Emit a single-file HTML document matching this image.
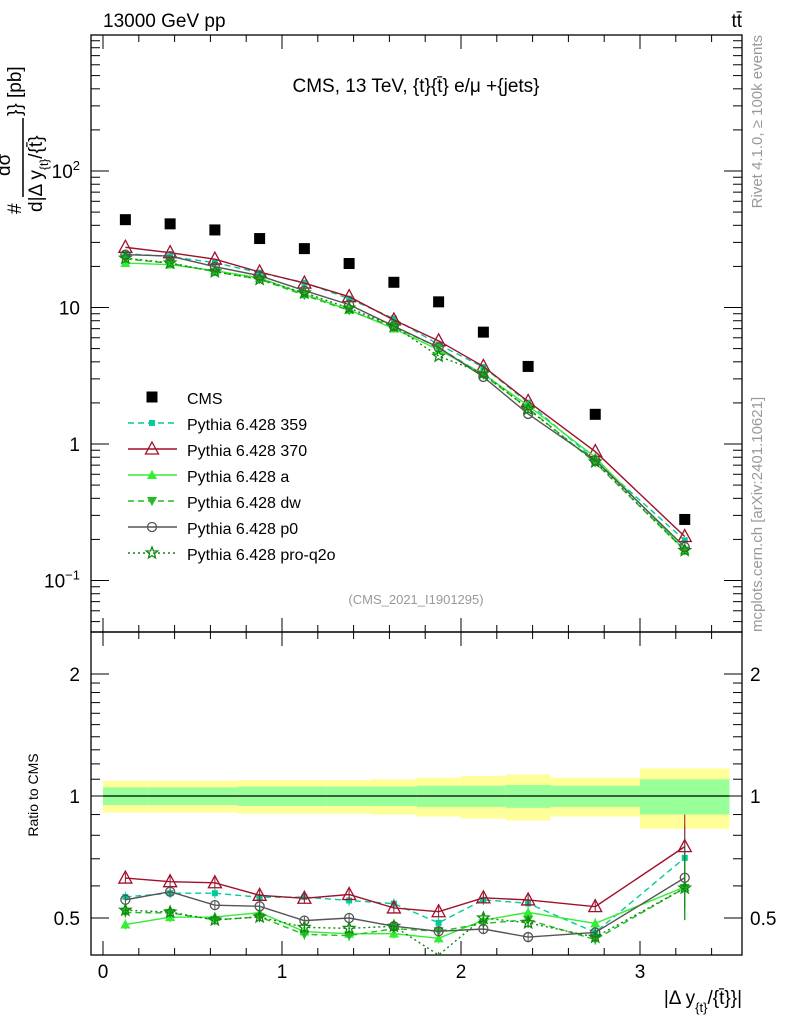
<!DOCTYPE html>
<html><head><meta charset="utf-8"><style>
body{margin:0;background:#fff}
svg{font-family:"Liberation Sans",sans-serif}
</style></head><body>
<svg id="c" width="786" height="1024" viewBox="0 0 786 1024" xmlns="http://www.w3.org/2000/svg">
<text x="103" y="27" font-size="19">13000 GeV pp</text>
<text x="742" y="27" font-size="19" text-anchor="end">tt̄</text>
<text x="416" y="92" font-size="19" text-anchor="middle">CMS, 13 TeV, {t}{t̄} e/μ +{jets}</text>
<text x="416" y="604" font-size="13" fill="#999" text-anchor="middle">(CMS_2021_I1901295)</text>
<text transform="translate(762,35) rotate(-90)" font-size="15" fill="#999" text-anchor="end">Rivet 4.1.0, ≥ 100k events</text>
<text transform="translate(762,632) rotate(-90)" font-size="15" fill="#999">mcplots.cern.ch [arXiv:2401.10621]</text>
<g>
<text transform="translate(21,214) rotate(-90)" font-size="19">#</text>
<text transform="translate(10,176) rotate(-90)" font-size="19">dσ</text>
<line x1="23" y1="118" x2="23" y2="197" stroke="#000" stroke-width="1.5"/>
<text transform="translate(21,116) rotate(-90)" font-size="19">}} [pb]</text>
<text transform="translate(42,212) rotate(-90)" font-size="19">d|Δ y<tspan font-size="12" dy="6">{t}</tspan><tspan dy="-6">/{t̄}</tspan></text>
</g>
<text transform="translate(38,795) rotate(-90)" font-size="14" text-anchor="middle">Ratio to CMS</text>
<text x="742" y="1004" font-size="19" text-anchor="end">|Δ y<tspan font-size="13" dy="8">{t}</tspan><tspan dy="-8">/{t̄}}|</tspan></text>
<g id="g"></g>
</svg>
<script>
const binLo=[0,0.25,0.5,0.75,1,1.25,1.5,1.75,2,2.25,2.5,3];
const binHi=[0.25,0.5,0.75,1,1.25,1.5,1.75,2,2.25,2.5,3,3.5];
const cmsVals=[44,41,37,32,27,21,15.3,11,6.6,3.7,1.65,0.28];
const statErr=[0.05,0.05,0.05,0.055,0.055,0.055,0.055,0.06,0.06,0.065,0.06,0.1];
const totErr=[0.09,0.09,0.09,0.095,0.095,0.095,0.1,0.11,0.12,0.13,0.11,0.17];
const s359=[24.8,23.6,21.3,18.0,15.2,11.6,8.3,5.35,3.66,2.01,0.76,0.197];
const s370=[27.6,25.2,22.6,18.2,15.1,12.0,8.1,5.7,3.7,2.05,0.88,0.21];
const sA=[21.2,20.6,18.6,16.5,12.5,9.6,7.0,4.9,3.26,1.91,0.80,0.167];
const sDW=[22.7,21.1,18.3,16.1,12.3,9.5,7.2,5.1,3.2,1.83,0.73,0.166];
const sP0=[24.4,23.8,19.9,17.1,13.3,10.5,7.3,5.1,3.1,1.66,0.76,0.176];
const sPro=[23.0,21.2,18.3,16.1,12.8,9.9,7.3,4.4,3.3,1.8,0.74,0.166];
const seriesNames=["Pythia 6.428 359","Pythia 6.428 370","Pythia 6.428 a","Pythia 6.428 dw","Pythia 6.428 p0","Pythia 6.428 pro-q2o"];
const NS="http://www.w3.org/2000/svg";
const G=document.getElementById('g');
function el(t,a,p){const e=document.createElementNS(NS,t);for(const k in a)e.setAttribute(k,a[k]);(p||G).appendChild(e);return e;}
const L=91,R=742,T=35,M=632,B=955;
const X=v=>103+v*179;
const Y=v=>444-Math.log10(v)*136.5;
const RY=v=>796-Math.log2(v)*122;
const cen=binLo.map((l,i)=>(l+binHi[i])/2);
const bandG=el('g',{});
binLo.forEach((l,i)=>{
 const r1=el('rect',{x:X(l),y:RY(1+totErr[i]),width:X(binHi[i])-X(l),height:RY(1-totErr[i])-RY(1+totErr[i]),fill:'#ffff99'},bandG);
 
});
binLo.forEach((l,i)=>{
 const r2=el('rect',{x:X(l),y:RY(1+statErr[i]),width:X(binHi[i])-X(l),height:RY(1-statErr[i])-RY(1+statErr[i]),fill:'#99ff99'},bandG);
 
});
const one=el('line',{x1:X(0),x2:X(3.5),y1:RY(1),y2:RY(1),stroke:'#000','stroke-width':1.3});

const f1=el('rect',{x:L,y:T,width:R-L,height:M-T,fill:'none',stroke:'#000','stroke-width':1.3});

const f2=el('rect',{x:L,y:M,width:R-L,height:B-M,fill:'none',stroke:'#000','stroke-width':1.3});

for(let v=0;v<=3.5001;v+=0.2){const maj=Math.abs(v-Math.round(v))<1e-6;const len=maj?14:7;
 [T,M].forEach(yy=>{const t=el('line',{x1:X(v),x2:X(v),y1:yy,y2:yy+len,stroke:'#000'});});
 [M,B].forEach(yy=>{const t=el('line',{x1:X(v),x2:X(v),y1:yy,y2:yy-len,stroke:'#000'});});
 if(maj){const tx=el('text',{x:X(v),y:978,'font-size':19,'text-anchor':'middle'});tx.textContent=Math.round(v);}
}
for(let e=-2;e<=3;e++)for(let m=1;m<10;m++){const v=m*Math.pow(10,e);const y=Y(v);if(y<T||y>M)continue;const len=m==1?18:9;
 [[L,L+len],[R,R-len]].forEach(([a,b])=>{const t=el('line',{x1:a,x2:b,y1:y,y2:y,stroke:'#000'});});}
const ylab=[["10",2],["10",1],["1",0],["10",-1]];
ylab.forEach(([b,e])=>{const tx=el('text',{x:80,y:Y(Math.pow(10,e))+7,'font-size':19,'text-anchor':'end'});
 
 if(e==2){tx.innerHTML='10<tspan font-size="13" dy="-8">2</tspan>';}
 else if(e==-1){tx.innerHTML='10<tspan font-size="13" dy="-8">−1</tspan>';}
 else tx.textContent=b;});
const rt=[0.5,0.6,0.7,0.8,0.9,1,1.1,1.2,1.3,1.4,1.5,1.6,1.7,1.8,1.9,2];
rt.forEach(v=>{const y=RY(v);const maj=(v==0.5||v==1||v==2);const len=maj?18:9;
 [[L,L+len],[R,R-len]].forEach(([a,b])=>{const t=el('line',{x1:a,x2:b,y1:y,y2:y,stroke:'#000'});});
 if(maj){[[80,'end'],[750,'start']].forEach(([xx,an])=>{const tx=el('text',{x:xx,y:y+7,'font-size':19,'text-anchor':an});tx.textContent=v;});}
});
function marker(type,x,y,col,parent){
 let e;
 if(type=='sq')e=el('rect',{x:x-3,y:y-3,width:6,height:6,fill:col},parent);
 else if(type=='bsq')e=el('rect',{x:x-5.5,y:y-5.5,width:11,height:11,fill:col},parent);
 else if(type=='otri')e=el('path',{d:`M${x},${y-7}L${x+6.5},${y+5}L${x-6.5},${y+5}Z`,fill:'none',stroke:col,'stroke-width':1.3},parent);
 else if(type=='tri')e=el('path',{d:`M${x},${y-5}L${x+5},${y+4}L${x-5},${y+4}Z`,fill:col},parent);
 else if(type=='itri')e=el('path',{d:`M${x},${y+5}L${x+5},${y-4}L${x-5},${y-4}Z`,fill:col},parent);
 else if(type=='circ')e=el('circle',{cx:x,cy:y,r:4.5,fill:'none',stroke:col,'stroke-width':1.3},parent);
 else if(type=='star'){let d='';for(let k=0;k<10;k++){const r=k%2?2.6:6;const a=-Math.PI/2+k*Math.PI/5;d+=(k?'L':'M')+(x+r*Math.cos(a)).toFixed(1)+','+(y+r*Math.sin(a)).toFixed(1);}e=el('path',{d:d+'Z',fill:'none',stroke:col,'stroke-width':1.3},parent);}
 
 return e;
}
const series=[
 {v:s359,c:'#00cc99',dash:'6,4',m:'sq'},
 {v:s370,c:'#a0102a',dash:'',m:'otri'},
 {v:sA,c:'#33ee33',dash:'',m:'tri'},
 {v:sDW,c:'#22bb22',dash:'6,4',m:'itri'},
 {v:sP0,c:'#555555',dash:'',m:'circ'},
 {v:sPro,c:'#118811',dash:'2,3',m:'star'}];
series.forEach((s,si)=>{
 const g=el('g',{});
 const p1=el('polyline',{points:s.v.map((v,i)=>X(cen[i])+','+Y(v)).join(' '),fill:'none',stroke:s.c,'stroke-width':1.4,'stroke-dasharray':s.dash},g);
 
 const p2=el('polyline',{points:s.v.map((v,i)=>X(cen[i])+','+Math.min(B,RY(v/cmsVals[i]))).join(' '),fill:'none',stroke:s.c,'stroke-width':1.4,'stroke-dasharray':s.dash},g);
 
 s.v.forEach((v,i)=>{marker(s.m,X(cen[i]),Y(v),s.c,g);const ry=RY(v/cmsVals[i]);
  const eb=el('line',{x1:X(cen[i]),x2:X(cen[i]),y1:RY(v/cmsVals[i]*(i==11?1.2:1.03)),y2:Math.min(B,RY(v/cmsVals[i]/(i==11?1.2:1.03))),stroke:s.c},g);
  
  if(ry<B)marker(s.m,X(cen[i]),ry,s.c,g);});
});
const cg=el('g',{});
cmsVals.forEach((v,i)=>marker('bsq',X(cen[i]),Y(v),'#000',cg));
const lg=el('g',{});
const ly0=397;
marker('bsq',152,ly0,'#000',lg);
const t0=el('text',{x:187,y:ly0+7,'font-size':16},lg);t0.textContent='CMS';
series.forEach((s,si)=>{const y=ly0+26*(si+1);
 const ln=el('line',{x1:128,x2:177,y1:y,y2:y,stroke:s.c,'stroke-width':1.4,'stroke-dasharray':s.dash},lg);
 marker(s.m,152,y,s.c,lg);
 const t=el('text',{x:187,y:y+7,'font-size':16},lg);t.textContent=seriesNames[si];});
</script>
</body></html>
